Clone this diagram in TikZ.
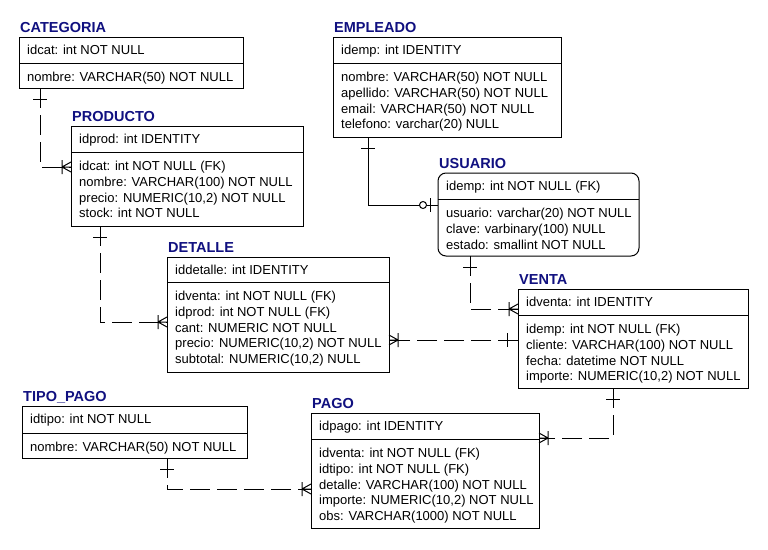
\documentclass[tikz,border=0pt]{standalone}
\usepackage{fontspec}
\setmainfont{Liberation Sans}
\definecolor{titleblue}{RGB}{16,16,128}
\tikzset{
  ebox/.style={draw, line width=1pt, inner sep=0pt, outer sep=0pt, anchor=north west, boxextra},
  boxextra/.style={},
  attr/.style={anchor=base west, inner sep=0pt, font=\fontsize{13}{15}\selectfont},
  etitle/.style={anchor=base west, inner sep=0pt, font=\fontsize{14.5}{16}\selectfont\bfseries, text=titleblue},
  rel/.style={line width=1pt, dash pattern=on 20pt off 7pt},
  idrel/.style={line width=1pt},
  relmark/.style={line width=1pt}
}
% #1 name, #2 L, #3 T, #4 R, #5 divider, #6 B, #7 title, #8 key row, #9 attributes
\newcommand\entity[9]{%
  \node[ebox, minimum width={#4-#2}, minimum height={#6-#3}] (#1) at (#2,#3) {};
  \draw[line width=1pt] (#2,#5) -- (#4,#5);
  \node[etitle] (#1-title) at ({#2+1},{#3-5}) {#7};
  \node[attr] (#1-pk) at ({#2+8},{#3+17.5}) {#8};
  \foreach \a [count=\i] in {#9} {
    \node[attr] (#1-\i) at ({#2+8},{#5+18.5+15.75*(\i-1)}) {\a};
  }
}
% crow's foot at #1, outward direction (#2,#3)
\newcommand\crowfoot[3]{%
  \draw[relmark] ([shift={({9*#2},{9*#3})}]#1) -- (#1)
    ([shift={({9*#2},{9*#3})}]#1) -- ([shift={({-5*#3},{5*#2})}]#1)
    ([shift={({9*#2},{9*#3})}]#1) -- ([shift={({5*#3},{-5*#2})}]#1)
    ([shift={({9*#2-7*#3},{9*#3+7*#2})}]#1) -- ([shift={({9*#2+7*#3},{9*#3-7*#2})}]#1);
}
% single bar at #1, outward direction (#2,#3)
\newcommand\onemark[3]{%
  \draw[relmark] ([shift={({11*#2-7*#3},{11*#3+7*#2})}]#1) -- ([shift={({11*#2+7*#3},{11*#3-7*#2})}]#1);
}
\begin{document}
\begin{tikzpicture}[x=1pt,y=-1pt]
\useasboundingbox (0,0) rectangle (768,549);
\fill[white] (0,0) rectangle (768,549);

\entity{cat}{19}{37}{243}{63}{88}{CATEGORIA}{idcat: int NOT NULL}{nombre: VARCHAR(50) NOT NULL}
\entity{prod}{71}{126}{303}{152}{226}{PRODUCTO}{idprod: int IDENTITY}{idcat: int NOT NULL (FK),nombre: VARCHAR(100) NOT NULL,{precio: NUMERIC(10,2) NOT NULL},stock: int NOT NULL}
\entity{emp}{333}{37}{561}{63}{137}{EMPLEADO}{idemp: int IDENTITY}{nombre: VARCHAR(50) NOT NULL,apellido: VARCHAR(50) NOT NULL,email: VARCHAR(50) NOT NULL,telefono: varchar(20) NULL}
\tikzset{boxextra/.style={rounded corners=8pt}}
\entity{usu}{438}{173}{639}{199}{256}{USUARIO}{idemp: int NOT NULL (FK)}{usuario: varchar(20) NOT NULL,clave: varbinary(100) NULL,estado: smallint NOT NULL}
\tikzset{boxextra/.style={}}
\entity{det}{167}{257}{389}{282}{372}{DETALLE}{iddetalle: int IDENTITY}{idventa: int NOT NULL (FK),idprod: int NOT NULL (FK),cant: NUMERIC NOT NULL,{precio: NUMERIC(10,2) NOT NULL},{subtotal: NUMERIC(10,2) NULL}}
\entity{ven}{518}{289}{748}{315}{388}{VENTA}{idventa: int IDENTITY}{idemp: int NOT NULL (FK),cliente: VARCHAR(100) NOT NULL,fecha: datetime NOT NULL,{importe: NUMERIC(10,2) NOT NULL}}
\entity{tip}{22}{406}{247}{433}{458}{TIPO\_PAGO}{idtipo: int NOT NULL}{nombre: VARCHAR(50) NOT NULL}
\entity{pag}{311}{413}{539}{439}{528}{PAGO}{idpago: int IDENTITY}{idventa: int NOT NULL (FK),idtipo: int NOT NULL (FK),detalle: VARCHAR(100) NOT NULL,{importe: NUMERIC(10,2) NOT NULL},obs: VARCHAR(1000) NOT NULL}

% 1 CATEGORIA - PRODUCTO
\coordinate (k1) at (40,167);
\coordinate (s1) at (cat.south -| k1);
\coordinate (e1) at (prod.west |- k1);
\draw[rel] (s1) -- (k1) -- (e1);
\onemark{s1}{0}{1}
\crowfoot{e1}{-1}{0}

% 2 PRODUCTO - DETALLE
\coordinate (k2) at (100,322);
\coordinate (s2) at (prod.south -| k2);
\coordinate (e2) at (det.west |- k2);
\draw[rel] (s2) -- (k2) -- (e2);
\onemark{s2}{0}{1}
\crowfoot{e2}{-1}{0}

% 3 EMPLEADO - USUARIO
\coordinate (k3) at (368,205);
\coordinate (s3) at (emp.south -| k3);
\coordinate (e3) at (usu.west |- k3);
\draw[idrel] (s3) -- (k3) -- (e3);
\onemark{s3}{0}{1}
\draw[relmark] ([shift={(-8,-7)}]e3) -- ([shift={(-8,7)}]e3);
\draw[relmark, fill=white] ([shift={(-15,0)}]e3) circle[radius=3.5pt];

% 4 USUARIO - VENTA
\coordinate (k4) at (470,309);
\coordinate (s4) at (usu.south -| k4);
\coordinate (e4) at (ven.west |- k4);
\draw[rel] (s4) -- (k4) -- (e4);
\onemark{s4}{0}{1}
\crowfoot{e4}{-1}{0}

% 5 VENTA - DETALLE
\coordinate (k5) at (450,340);
\coordinate (s5) at (ven.west |- k5);
\coordinate (e5) at (det.east |- k5);
\draw[rel] (s5) -- (e5);
\onemark{s5}{-1}{0}
\crowfoot{e5}{1}{0}

% 6 VENTA - PAGO
\coordinate (k6) at (613,438);
\coordinate (s6) at (ven.south -| k6);
\coordinate (e6) at (pag.east |- k6);
\draw[rel] (s6) -- (k6) -- (e6);
\onemark{s6}{0}{1}
\crowfoot{e6}{1}{0}

% 7 TIPO_PAGO - PAGO
\coordinate (k7) at (167,489);
\coordinate (s7) at (tip.south -| k7);
\coordinate (e7) at (pag.west |- k7);
\draw[rel] (s7) -- (k7) -- (e7);
\onemark{s7}{0}{1}
\crowfoot{e7}{-1}{0}
\end{tikzpicture}
\end{document}
